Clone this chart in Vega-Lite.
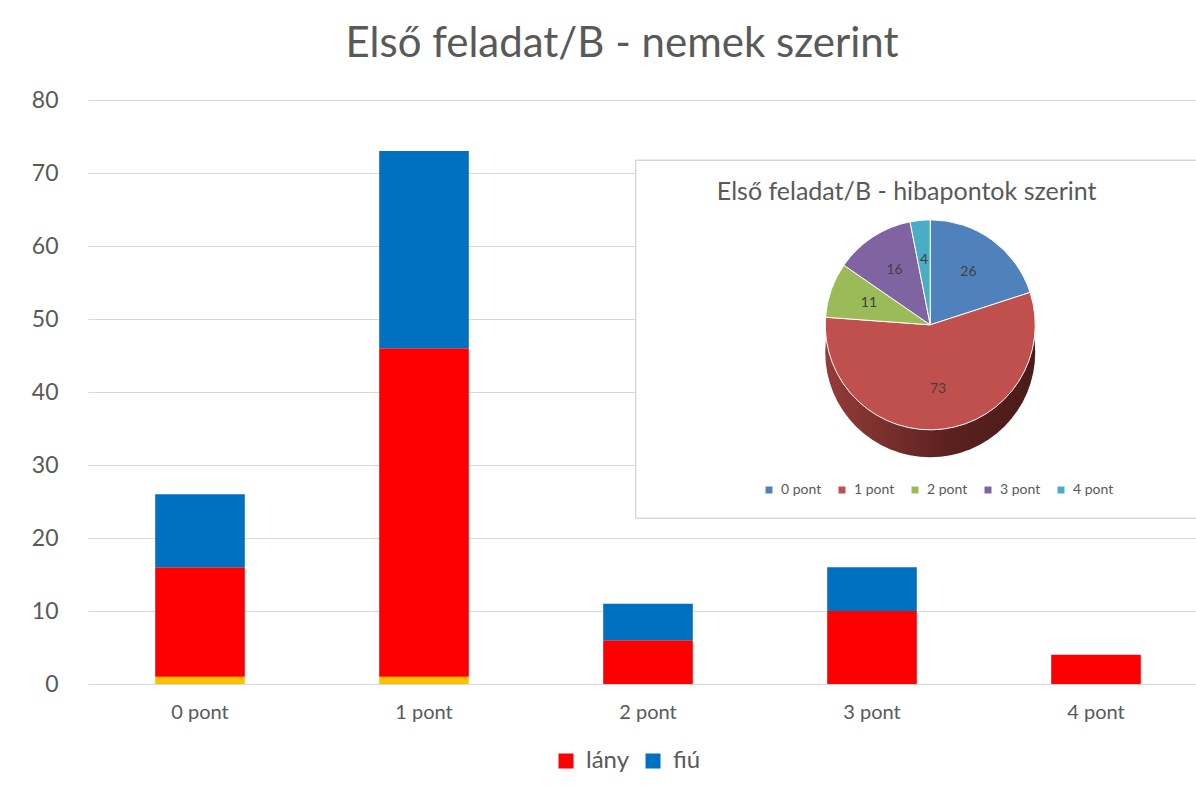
{
  "$schema": "https://vega.github.io/schema/vega-lite/v6.json",
  "autosize": {"type": "none"},
  "width": 1120,
  "height": 584,
  "padding": {"left": 88, "top": 100, "right": 0, "bottom": 106},
  "background": "white",
  "config": {
    "font": "Lato",
    "view": {"stroke": null},
    "axis": {"labelFont": "Lato", "labelColor": "#595959", "titleColor": "#595959"},
    "legend": {"labelFont": "Lato", "labelColor": "#595959"}
  },
  "title": {
    "text": "Első feladat/B - nemek szerint",
    "fontSize": 42,
    "fontWeight": "normal",
    "color": "#595959",
    "font": "Lato",
    "anchor": "middle",
    "dx": -26,
    "offset": 23
  },
  "datasets": {
    "nemek": [
      {"kat": "0 pont", "nem": "egyéb", "sorrend": 0, "db": 1},
      {"kat": "0 pont", "nem": "lány", "sorrend": 1, "db": 15},
      {"kat": "0 pont", "nem": "fiú", "sorrend": 2, "db": 10},
      {"kat": "1 pont", "nem": "egyéb", "sorrend": 0, "db": 1},
      {"kat": "1 pont", "nem": "lány", "sorrend": 1, "db": 45},
      {"kat": "1 pont", "nem": "fiú", "sorrend": 2, "db": 27},
      {"kat": "2 pont", "nem": "lány", "sorrend": 1, "db": 6},
      {"kat": "2 pont", "nem": "fiú", "sorrend": 2, "db": 5},
      {"kat": "3 pont", "nem": "lány", "sorrend": 1, "db": 10},
      {"kat": "3 pont", "nem": "fiú", "sorrend": 2, "db": 6},
      {"kat": "4 pont", "nem": "lány", "sorrend": 1, "db": 4}
    ],
    "hibapontok": [
      {"kat": "0 pont", "idx": 0, "db": 26},
      {"kat": "1 pont", "idx": 1, "db": 73},
      {"kat": "2 pont", "idx": 2, "db": 11},
      {"kat": "3 pont", "idx": 3, "db": 16},
      {"kat": "4 pont", "idx": 4, "db": 4}
    ],
    "doboz": [
      {"x1": 48.9, "x2": 100, "y1": 28.4, "y2": 89.7, "cim": "Első feladat/B - hibapontok szerint", "cx": 73.1, "cy": 84.2, "px": 75.2, "py": 61.5, "oy": 56.8}
    ]
  },
  "layer": [
    {
      "data": {"name": "nemek"},
      "mark": {"type": "bar"},
      "encoding": {
        "x": {
          "field": "kat",
          "type": "nominal",
          "scale": {"paddingInner": 0.6, "paddingOuter": 0.3},
          "axis": {"title": null, "labelAngle": 0, "labelFontSize": 20, "labelPadding": 18, "ticks": false, "domain": true, "domainColor": "#d9d9d9"}
        },
        "y": {
          "aggregate": "sum",
          "field": "db",
          "type": "quantitative",
          "stack": "zero",
          "scale": {"domain": [0, 80]},
          "axis": {"title": null, "values": [0, 10, 20, 30, 40, 50, 60, 70, 80], "labelFontSize": 23, "labelPadding": 30, "ticks": false, "domain": false, "gridColor": "#d9d9d9", "gridWidth": 1}
        },
        "color": {
          "field": "nem",
          "type": "nominal",
          "scale": {"domain": ["egyéb", "lány", "fiú"], "range": ["#FFC000", "#FF0000", "#0070C0"]},
          "legend": {
            "values": ["lány", "fiú"],
            "title": null,
            "orient": "none",
            "direction": "horizontal",
            "legendX": 466,
            "legendY": 649,
            "symbolType": "square",
            "symbolSize": 225,
            "symbolStrokeWidth": 0,
            "labelFontSize": 24,
            "labelOffset": 8,
            "columnPadding": 11
          }
        },
        "order": {"field": "sorrend", "type": "quantitative"}
      }
    },
    {
      "layer": [
        {
          "data": {"name": "doboz"},
          "mark": {"type": "rect", "fill": "white", "stroke": "#d9d9d9", "strokeWidth": 1.5},
          "encoding": {
            "x": {"field": "x1", "type": "quantitative", "scale": {"domain": [0, 100]}, "axis": null},
            "x2": {"field": "x2"},
            "y": {"field": "y1", "type": "quantitative", "scale": {"domain": [0, 100]}, "axis": null},
            "y2": {"field": "y2"}
          }
        },
        {
          "data": {"name": "doboz"},
          "mark": {"type": "text", "fontSize": 25, "color": "#595959", "font": "Lato", "baseline": "middle", "align": "center"},
          "encoding": {
            "x": {"field": "cx", "type": "quantitative"},
            "y": {"field": "cy", "type": "quantitative"},
            "text": {"field": "cim"}
          }
        },
        {
          "data": {"name": "doboz"},
          "mark": {
            "type": "arc",
            "radius": 105,
            "theta": 0,
            "theta2": 6.2832,
            "color": {
              "gradient": "linear",
              "x1": 0, "y1": 0, "x2": 1, "y2": 0,
              "stops": [{"offset": 0, "color": "#943c39"}, {"offset": 0.6, "color": "#5a211f"}, {"offset": 1, "color": "#4a1b1a"}]
            }
          },
          "encoding": {
            "x": {"field": "px", "type": "quantitative"},
            "y": {"field": "oy", "type": "quantitative"}
          }
        },
        {
          "data": {"name": "hibapontok"},
          "mark": {"type": "arc", "radius": 105, "stroke": "white", "strokeWidth": 1},
          "encoding": {
            "x": {"datum": 75.2, "type": "quantitative"},
            "y": {"datum": 61.5, "type": "quantitative"},
            "theta": {"field": "db", "type": "quantitative", "stack": true},
            "order": {"field": "idx", "type": "quantitative"},
            "color": {
              "field": "kat",
              "type": "nominal",
              "scale": {"domain": ["0 pont", "1 pont", "2 pont", "3 pont", "4 pont"], "range": ["#4F81BD", "#C0504D", "#9BBB59", "#8064A2", "#4BACC6"]},
              "legend": {
                "title": null,
                "orient": "none",
                "direction": "horizontal",
                "legendX": 674,
                "legendY": 383,
                "symbolType": "square",
                "symbolSize": 49,
                "symbolStrokeWidth": 0,
                "labelFontSize": 14,
                "labelOffset": 5,
                "columnPadding": 13
              }
            }
          }
        },
        {
          "data": {"name": "hibapontok"},
          "mark": {"type": "text", "radius": 65, "fontSize": 14, "color": "#404040", "font": "Lato"},
          "encoding": {
            "x": {"datum": 75.2, "type": "quantitative"},
            "y": {"datum": 61.5, "type": "quantitative"},
            "theta": {"field": "db", "type": "quantitative", "stack": true},
            "order": {"field": "idx", "type": "quantitative"},
            "text": {"field": "db", "type": "quantitative"}
          }
        }
      ]
    }
  ],
  "resolve": {"scale": {"x": "independent", "y": "independent", "color": "independent"}}
}
